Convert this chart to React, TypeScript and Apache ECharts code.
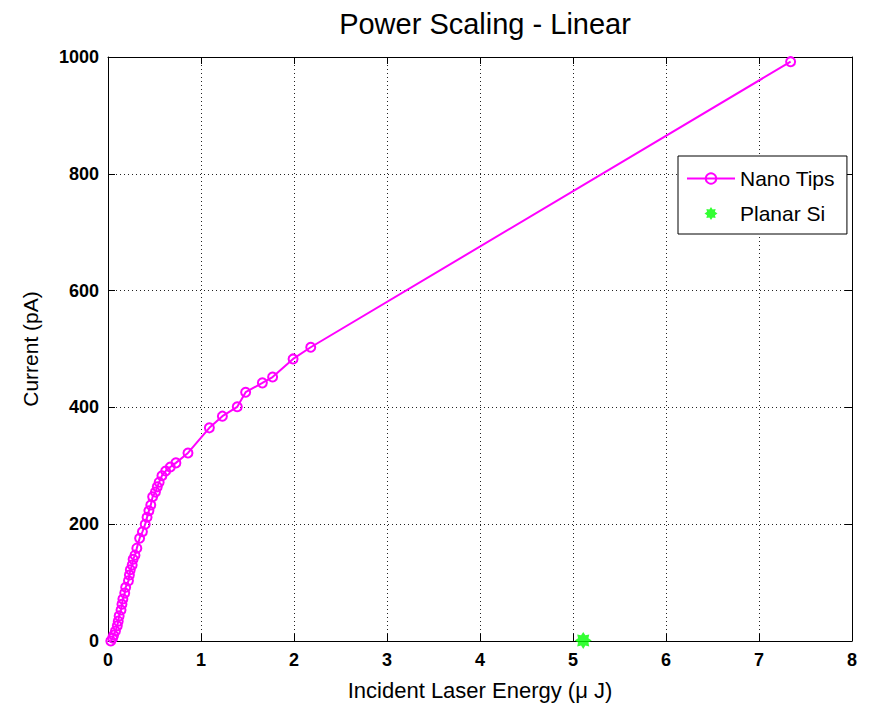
import React, { useEffect, useRef } from "react";
import * as echarts from "echarts";

const nanoX = [0.03, 0.05, 0.06, 0.08, 0.1, 0.11, 0.12, 0.14, 0.15, 0.16, 0.18, 0.19, 0.22, 0.23, 0.24, 0.26, 0.27, 0.29, 0.31, 0.34, 0.37, 0.4, 0.42, 0.44, 0.46, 0.48, 0.51, 0.53, 0.55, 0.58, 0.62, 0.67, 0.73, 0.86, 1.09, 1.23, 1.39, 1.48, 1.66, 1.77, 1.99, 2.18, 7.34];
const nanoY = [0, 5, 10, 17, 26, 34, 43, 53, 63, 72, 82, 92, 103, 113, 122, 130, 140, 147, 159, 176, 187, 200, 212, 223, 233, 247, 255, 264, 272, 283, 291, 298, 305, 322, 365, 385, 401, 426, 442, 452, 483, 503, 992];
const planarX = [5.11];
const planarY = [1];

const xTicks = [0, 1, 2, 3, 4, 5, 6, 7, 8];
const yTicks = [0, 200, 400, 600, 800, 1000];

const STAR = "path://M100,50L80.5,62.6L85.4,85.4L62.6,80.5L50,100L37.4,80.5L14.6,85.4L19.5,62.6L0,50L19.5,37.4L14.6,14.6L37.4,19.5L50,0L62.6,19.5L85.4,14.6L80.5,37.4Z";
const FONT = "'Liberation Sans', Arial, Helvetica, sans-serif";

export default function App() {
  const ref = useRef<HTMLDivElement>(null);
  useEffect(() => {
    if (!ref.current) return;
    const chart = echarts.init(ref.current, null, { renderer: "svg" });
    const split = { show: true, lineStyle: { color: "#222", width: 1, type: [1, 3] as any } };
    const line = { show: true, onZero: false, lineStyle: { color: "#000", width: 1 } };
    const tick = { show: true, inside: true, length: 7, lineStyle: { color: "#000" } };
    chart.setOption({
      animation: false,
      backgroundColor: "#fff",
      title: {
        text: "Power Scaling - Linear",
        left: 480,
        top: 4,
        textAlign: "center",
        textStyle: { fontFamily: FONT, fontSize: 29, fontWeight: "normal", color: "#000" },
      },
      grid: { left: 108, right: 26, top: 57, bottom: 73, containLabel: false },
      legend: {
        orient: "vertical",
        left: 678,
        top: 156,
        backgroundColor: "#fff",
        borderColor: "#000",
        borderWidth: 1,
        borderRadius: 0,
        padding: [12, 12, 10, 8],
        itemGap: 14,
        itemWidth: 48,
        itemHeight: 13,
        textStyle: { fontFamily: FONT, fontSize: 21, color: "#000" },
        data: ["Nano Tips", "Planar Si"],
      },
      xAxis: [
        {
          type: "value",
          min: 0,
          max: 8,
          interval: 1,
          name: "Incident Laser Energy (\u03bc J)",
          nameLocation: "middle",
          nameGap: 38,
          nameTextStyle: { fontFamily: FONT, fontSize: 22, color: "#000" },
          axisLine: line,
          axisTick: tick,
          splitLine: split,
          axisLabel: { fontFamily: FONT, fontSize: 18, fontWeight: "bold", color: "#000", margin: 10, customValues: xTicks, formatter: (v: number) => String(v) } as any,
        },
        {
          type: "value",
          position: "top",
          min: 0,
          max: 8,
          interval: 1,
          axisLine: line,
          axisTick: tick,
          splitLine: { show: false },
          axisLabel: { show: false },
        },
      ],
      yAxis: [
        {
          type: "value",
          min: 0,
          max: 1000,
          interval: 200,
          name: "Current (pA)",
          nameLocation: "middle",
          nameGap: 67,
          nameTextStyle: { fontFamily: FONT, fontSize: 21, color: "#000" },
          axisLine: line,
          axisTick: tick,
          splitLine: split,
          axisLabel: { fontFamily: FONT, fontSize: 18, fontWeight: "bold", color: "#000", margin: 9, customValues: yTicks, formatter: (v: number) => String(v) } as any,
        },
        {
          type: "value",
          position: "right",
          min: 0,
          max: 1000,
          interval: 200,
          axisLine: line,
          axisTick: tick,
          splitLine: { show: false },
          axisLabel: { show: false },
        },
      ],
      series: [
        {
          name: "Nano Tips",
          type: "line",
          data: nanoX.map((x, i) => [x, nanoY[i]]),
          symbol: "circle",
          symbolSize: 9,
          showAllSymbol: true,
          lineStyle: { color: "#ff00ff", width: 2 },
          itemStyle: { color: "rgba(255,255,255,0)", borderColor: "#ff00ff", borderWidth: 2 },
          z: 3,
        },
        {
          name: "Planar Si",
          type: "scatter",
          data: planarX.map((x, i) => [x, planarY[i]]),
          symbol: STAR,
          symbolSize: 17,
          itemStyle: { color: "#00ff00" },
          z: 4,
        },
      ],
    });
    return () => chart.dispose();
  }, []);
  return <div ref={ref} style={{ width: 878, height: 714, position: "absolute", left: 0, top: 0 }} />;
}
